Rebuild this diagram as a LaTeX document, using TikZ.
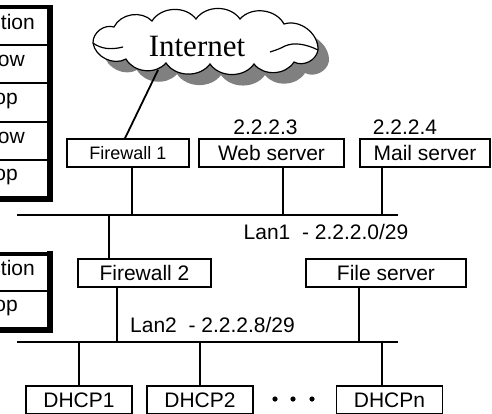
\documentclass[tikz,border=0pt]{standalone}
\usepackage{fontspec}
\setmainfont{Liberation Serif}
\setsansfont{Liberation Sans}
\tikzset{
  host/.style={draw, line width=1.5pt, minimum height=28pt, inner sep=0pt,
    font=\sffamily\fontsize{21}{25}\selectfont},
  addr/.style={inner sep=0pt, font=\sffamily\fontsize{21}{25}\selectfont},
  cell/.style={addr, anchor=mid east},
  wire/.style={line width=1.8pt},
  puff/.style={bend left=55}
}
% outline of the internet cloud, clockwise from the left tip
\newcommand{\cloudoutline}{(93,43) to[puff] (114,27) to[puff] (152,21) to[puff] (196,19)
  to[puff] (240,19) to[puff] (284,24) to[puff] (318,50)
  to[puff] (294,62) to[puff] (254,64) to[puff] (210,64) to[puff] (166,63)
  to[puff] (126,59) to[puff] cycle}
\begin{document}
\begin{tikzpicture}[x=1pt,y=-1pt]
\useasboundingbox (0,0) rectangle (492,413);
\clip (0,0) rectangle (492,413);

% rule tables at the left edge
\draw[line width=4pt] (0,7)--(47,7);
\foreach \y in {45,83,122,160}{
    \draw[line width=1.5pt] (0,\y)--(47,\y);
}
\draw[line width=6pt] (0,198.5)--(50,198.5)--(50,5);
\foreach \t/\x/\y [count=\i] in {ction/35/27, ow/25/64, op/18/102.5, ow/25/141, op/18/178}{
    \node[cell] (rule\i) at (\x,\y) {\t};
}
\draw[line width=4pt] (0,254)--(47,254);
\draw[line width=1.5pt] (0,291)--(47,291);
\draw[line width=6pt] (0,330)--(50,330)--(50,251);
\node[cell] (natact) at (35,273) {ction};
\node[cell] (natdrop) at (18,309.5) {op};

% the internet
\begin{scope}[shift={(11,11)}]
    \fill[black!50] \cloudoutline;
\end{scope}
\draw[line width=1.2pt, fill=white] \cloudoutline;
\draw[line width=1.2pt] (93,43) .. controls (101,49) and (111,50) .. (123,47);
\draw[line width=1.2pt] (318,50) .. controls (306,44) and (294,42) .. (285,46)
    .. controls (279,49) .. (270,52);
\node[font=\rmfamily\fontsize{31}{36}\selectfont] (inettxt) at (197,46) {Internet};
\coordinate (inetfoot) at (158,70);

% hosts
\node[host, font=\sffamily\fontsize{18}{22}\selectfont, minimum width=122pt] (fw1) at (128,153) {Firewall 1};
\node[host, minimum width=145pt] (web) at (271.5,153) {Web server};
\node[host, minimum width=130pt] (mail) at (425,153) {Mail server};
\node[host, minimum width=133pt] (fw2) at (144.5,273) {Firewall 2};
\node[host, minimum width=160pt] (files) at (386,273) {File server};
\foreach \n/\x/\t in {dhcp1/79/DHCP1, dhcp2/200/DHCP2, dhcpn/389.5/DHCPn}{
    \node[host, minimum width=106pt] (\n) at (\x,400) {\t};
}
\foreach \x in {275,293,312}{
    \fill (\x,399) circle (2.6pt);
}

\node[addr] (webip) at (265.5,127) {2.2.2.3};
\node[addr] (mailip) at (405,127) {2.2.2.4};

% the two lans
\coordinate (lan1w) at (17,215);
\coordinate (lan1e) at (398,215);
\coordinate (lan2w) at (17,342);
\coordinate (lan2e) at (398,342);
\draw[wire] (lan1w)--(lan1e);
\draw[wire] (lan2w)--(lan2e);
\node[addr] (lan1txt) at (326,232) {Lan1~~- 2.2.2.0/29};
\node[addr] (lan2txt) at (212.5,325) {Lan2~~- 2.2.2.8/29};

\draw[wire] (inetfoot)--([xshift=-3pt]fw1.north);
\foreach \n/\x in {fw1/132, web/283, mail/382}{
    \draw[wire] (\n.south -| \x,0)--(lan1w -| \x,0);
}
\draw[wire] (fw2.north -| 109,0)--(lan1w -| 109,0);
\foreach \n/\x in {fw2/117, files/359}{
    \draw[wire] (\n.south -| \x,0)--(lan2w -| \x,0);
}
\foreach \n/\x in {dhcp1/79, dhcp2/200, dhcpn/382}{
    \draw[wire] (\n.north -| \x,0)--(lan2w -| \x,0);
}
\end{tikzpicture}
\end{document}
